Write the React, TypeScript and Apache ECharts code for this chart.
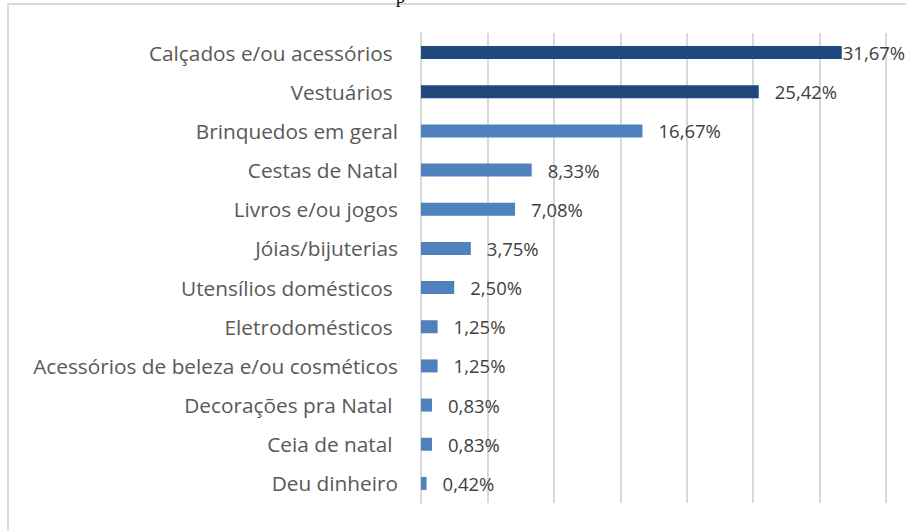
import React, { useEffect, useRef } from "react";
import * as echarts from "echarts";

const categories = [
  "Calçados e/ou acessórios ",
  "Vestuários ",
  "Brinquedos em geral",
  "Cestas de Natal",
  "Livros e/ou jogos",
  "Jóias/bijuterias",
  "Utensílios domésticos ",
  "Eletrodomésticos ",
  "Acessórios de beleza e/ou cosméticos",
  "Decorações pra Natal ",
  "Ceia de natal ",
  "Deu dinheiro",
];
const values = [31.67, 25.42, 16.67, 8.33, 7.08, 3.75, 2.5, 1.25, 1.25, 0.83, 0.83, 0.42];
const highlighted = [true, true, false, false, false, false, false, false, false, false, false, false];
const axisMin = 0;
const axisMax = 35;
const axisInterval = 5;

export default function App() {
  const ref = useRef<HTMLDivElement>(null);
  useEffect(() => {
    if (!ref.current) return;
    const chart = echarts.init(ref.current, undefined, { renderer: "svg" });
    const fmt = (v: number) => v.toFixed(2).replace(".", ",") + "%";
    chart.setOption({
      animation: false,
      backgroundColor: "#ffffff",
      grid: { left: 421, right: 20, top: 33, bottom: 28, containLabel: false },
      xAxis: {
        type: "value",
        min: axisMin,
        max: axisMax,
        interval: axisInterval,
        axisLabel: { show: false },
        axisLine: { show: false },
        axisTick: { show: false },
        splitLine: { show: true, lineStyle: { color: "#d9d9d9", width: 2 } },
      },
      yAxis: {
        type: "category",
        inverse: true,
        data: categories,
        axisLine: { show: true, lineStyle: { color: "#d9d9d9", width: 2 } },
        axisTick: { show: false },
        axisLabel: {
          margin: 23,
          color: "#595959",
          fontFamily: "'Open Sans', sans-serif",
          fontSize: 20.8,
        },
      },
      series: [
        {
          type: "bar",
          barWidth: 13,
          data: values.map((v, i) => ({
            value: v,
            itemStyle: { color: highlighted[i] ? "#1f497d" : "#4f81bd" },
            label: i === 0 ? { distance: 1 } : undefined,
          })),
          label: {
            show: true,
            position: "right",
            distance: 16,
            color: "#404040",
            fontFamily: "'Open Sans', sans-serif",
            fontSize: 18.5,
            formatter: (p: any) => fmt(p.value),
          },
        },
      ],
      graphic: [
        {
          type: "rect",
          shape: { x: 8, y: 4, width: 1000, height: 1000 },
          style: { fill: "none", stroke: "#d9d9d9", lineWidth: 2 },
          silent: true,
        },
        {
          type: "text",
          x: 396,
          y: 6,
          style: {
            text: "p",
            font: "18px 'Liberation Serif', serif",
            fill: "#000000",
            textVerticalAlign: "bottom",
          },
          silent: true,
        },
      ],
    });
    return () => chart.dispose();
  }, []);
  return (
    <div
      ref={ref}
      style={{ position: "fixed", left: 0, top: 0, width: 906, height: 531 }}
    />
  );
}
